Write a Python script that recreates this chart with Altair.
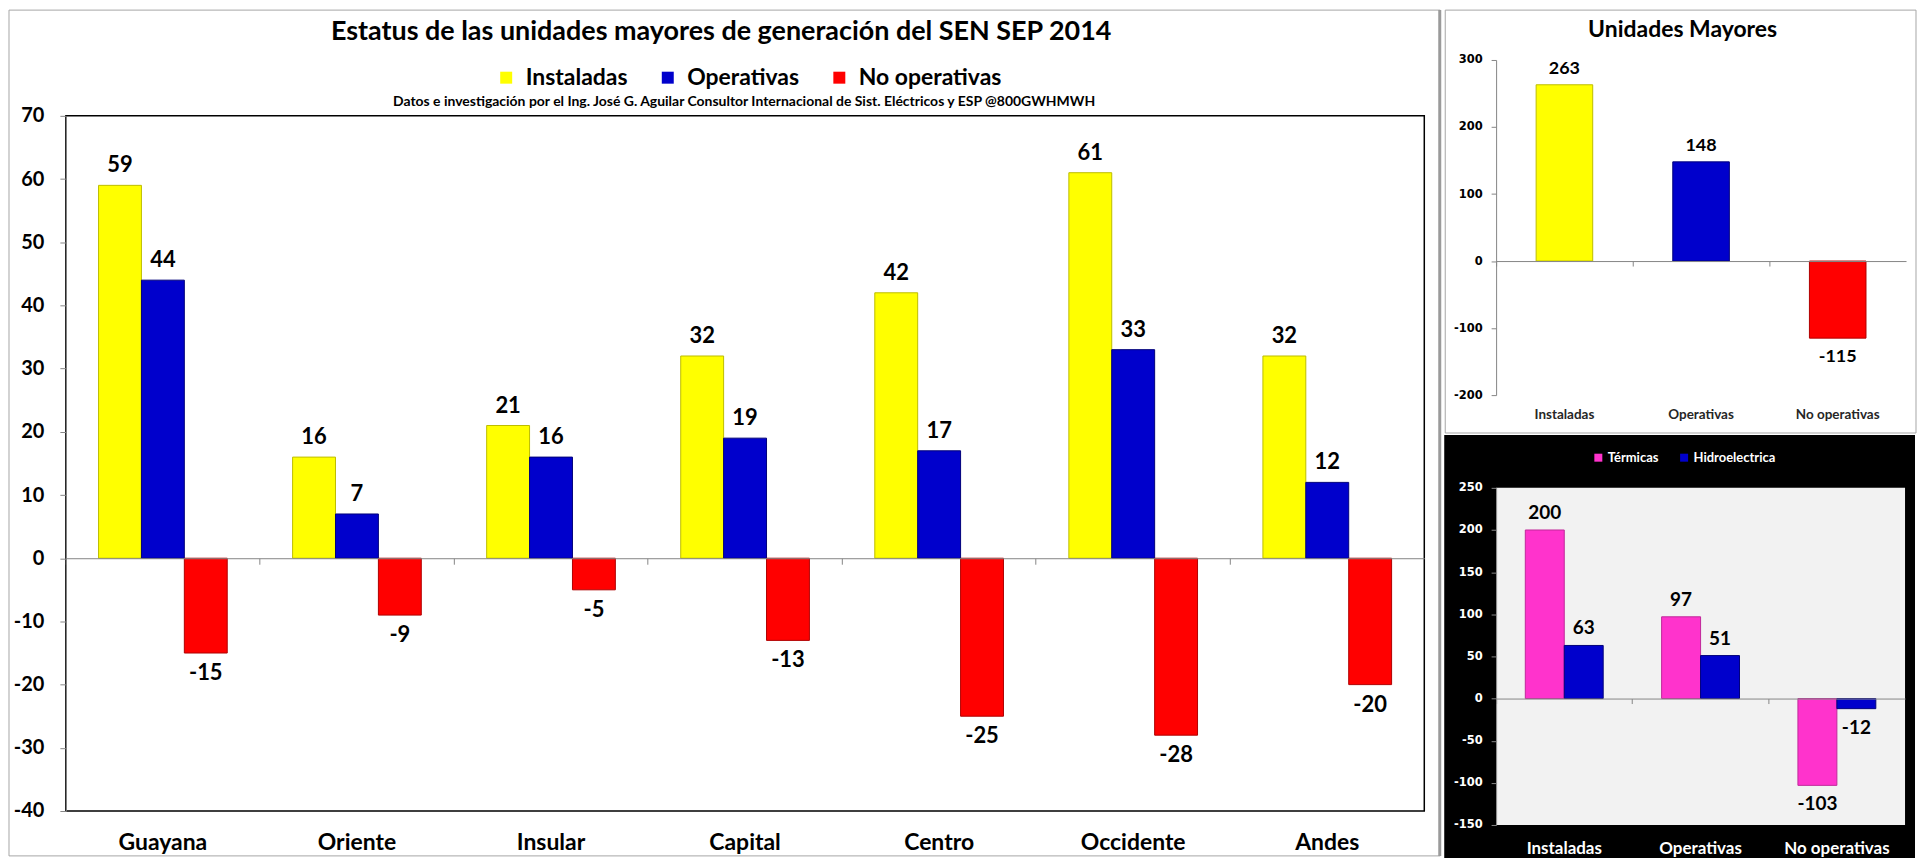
import altair as alt
import pandas as pd

# ---------------- data ----------------
regions = ["Guayana", "Oriente", "Insular", "Capital", "Centro", "Occidente", "Andes"]
instaladas = [59, 16, 21, 32, 42, 61, 32]
operativas = [44, 7, 16, 19, 17, 33, 12]
no_operativas = [-15, -9, -5, -13, -25, -28, -20]
series = ["Instaladas", "Operativas", "No operativas"]
series_colors = ["#FFFF00", "#0000CC", "#FF0000"]
series_strokes = ["#BDBD00", "#00007A", "#B00000"]

totals = [263, 148, -115]

tipos = ["Térmicas", "Hidroelectrica"]
tipo_colors = ["#FF33CC", "#0000CC"]
tipo_strokes = ["#C0289A", "#00007A"]
termicas = [200, 97, -103]
hidro = [63, 51, -12]

main_y_ticks = [-40, -30, -20, -10, 0, 10, 20, 30, 40, 50, 60, 70]
top_y_ticks = [-200, -100, 0, 100, 200, 300]
bot_y_ticks = [-150, -100, -50, 0, 50, 100, 150, 200, 250]

title_main = "Estatus de las unidades mayores de generación del SEN SEP 2014"
subtitle_main = ("Datos e investigación por el Ing. José G. Aguilar Consultor Internacional "
                 "de Sist. Eléctricos y ESP @800GWHMWH")
title_top = "Unidades Mayores"

FONT = "Lato"
AXFONT = "DejaVu Sans"
GRAY = "#868686"
LBL = "datum.value + ''"

df1 = pd.DataFrame(
    [{"region": r, "serie": s, "valor": v}
     for s, vals in zip(series, [instaladas, operativas, no_operativas])
     for r, v in zip(regions, vals)]
)
df2 = pd.DataFrame({"cat": series, "valor": totals})
df3 = pd.DataFrame(
    [{"cat": c, "tipo": t, "valor": v}
     for t, vals in zip(tipos, [termicas, hidro])
     for c, v in zip(series, vals)]
)
dummy = alt.Data(values=[{"k": 1}])

# ---------------- main chart ----------------
# The view starts at the top of the right-hand panels; the value axis occupies [TOP1, H1].
W1, H1, TOP1 = 1362, 753, 56
zero1 = TOP1 + (H1 - TOP1) * 70 / 110

x1 = alt.X("region:N", sort=regions, scale=alt.Scale(domain=regions, paddingInner=0, paddingOuter=0),
           axis=alt.Axis(title=None, orient="bottom", offset=-(H1 - zero1), domainColor=GRAY,
                         tickColor=GRAY, tickSize=6, bandPosition=0,
                         labelPadding=268, labelFont=FONT, labelFontSize=23, labelFontWeight="bold",
                         labelColor="black", labelAngle=0, grid=False, zindex=1))
xo1 = alt.XOffset("serie:N", sort=series,
                  scale=alt.Scale(domain=series, paddingInner=0, paddingOuter=0.762))
y1 = alt.Y("valor:Q", scale=alt.Scale(domain=[-40, 70], nice=False, range=[H1, TOP1]),
           axis=alt.Axis(title=None, values=main_y_ticks, domainColor=GRAY, tickColor=GRAY,
                         tickSize=6, labelPadding=16, labelFont=FONT, labelFontSize=20,
                         labelFontWeight="bold", labelColor="black", grid=False, zindex=1,
                         labelExpr=LBL))

frame1 = alt.Chart(dummy).mark_rect(fill="transparent", stroke="#A6A6A6", strokeWidth=1).encode(
    x=alt.value(-57), x2=alt.value(1378), y=alt.value(-50), y2=alt.value(798))
divider1 = alt.Chart(dummy).mark_rect(fill="#9A9A9A").encode(
    x=alt.value(1376), x2=alt.value(1379), y=alt.value(-50), y2=alt.value(798))
border1 = alt.Chart(dummy).mark_rect(fill="transparent", stroke="black", strokeWidth=1.5).encode(
    x=alt.value(0), x2=alt.value(W1), y=alt.value(TOP1), y2=alt.value(H1))

bars1 = alt.Chart(df1).mark_bar(strokeWidth=1).encode(
    x=x1, xOffset=xo1, y=y1,
    color=alt.Color("serie:N", sort=series, scale=alt.Scale(domain=series, range=series_colors),
                    legend=alt.Legend(orient="none", legendX=430, legendY=TOP1 - 50,
                                      direction="horizontal", columns=3, title=None,
                                      symbolType="square", symbolSize=144, symbolStrokeWidth=0,
                                      labelFont=FONT, labelFontSize=23, labelFontWeight="bold",
                                      labelColor="black", columnPadding=28, labelOffset=8,
                                      padding=0)),
    stroke=alt.Stroke("serie:N", sort=series, scale=alt.Scale(domain=series, range=series_strokes),
                      legend=None),
)
lab_style = dict(font=FONT, fontSize=22, fontWeight="bold", color="black", baseline="middle")
pos1 = alt.Chart(df1).transform_filter("datum.valor >= 0").transform_calculate(
    lab="datum.valor + ''").mark_text(dy=-20, **lab_style).encode(
    x=x1, xOffset=xo1, y=y1, text="lab:N")
neg1 = alt.Chart(df1).transform_filter("datum.valor < 0").transform_calculate(
    lab="datum.valor + ''").mark_text(dy=20, **lab_style).encode(
    x=x1, xOffset=xo1, y=y1, text="lab:N")

t1 = alt.Chart(dummy).mark_text(text=title_main, font=FONT, fontSize=27, fontWeight="bold",
                                color="black", align="center", baseline="middle").encode(
    x=alt.value(657), y=alt.value(TOP1 - 84))
st1 = alt.Chart(dummy).mark_text(text=subtitle_main, font=FONT, fontSize=14, fontWeight="bold",
                                 color="black", align="center", baseline="middle").encode(
    x=alt.value(680), y=alt.value(TOP1 - 14))

main = alt.layer(frame1, divider1, border1, bars1, pos1, neg1, t1, st1).properties(
    width=W1, height=H1)

# ---------------- top-right chart ----------------
W2, H2 = 411, 336
zero2 = H2 * 300 / 500
x2 = alt.X("cat:N", sort=series, scale=alt.Scale(domain=series, paddingInner=0, paddingOuter=0),
           axis=alt.Axis(title=None, orient="bottom", offset=-(H2 - zero2), domainColor=GRAY,
                         tickColor=GRAY, tickSize=5, bandPosition=0,
                         labelPadding=142, labelFont=FONT, labelFontSize=13.5, labelFontWeight="bold",
                         labelColor="#262626", labelAngle=0, grid=False, zindex=1))
y2 = alt.Y("valor:Q", scale=alt.Scale(domain=[-200, 300], nice=False),
           axis=alt.Axis(title=None, values=top_y_ticks, domainColor=GRAY, tickColor=GRAY,
                         tickSize=5, labelPadding=9, labelFont=AXFONT, labelFontSize=11.5,
                         labelFontWeight="bold", labelColor="black", grid=False, zindex=1,
                         labelExpr=LBL))
frame2 = alt.Chart(dummy).mark_rect(fill="transparent", stroke="#A6A6A6", strokeWidth=1).encode(
    x=alt.value(-51), x2=alt.value(421), y=alt.value(-50), y2=alt.value(374))
bars2 = alt.Chart(df2).mark_bar(width=alt.RelativeBandSize(0.414), strokeWidth=1).encode(
    x=x2, y=y2,
    color=alt.Color("cat:N", sort=series, scale=alt.Scale(domain=series, range=series_colors),
                    legend=None),
    stroke=alt.Stroke("cat:N", sort=series, scale=alt.Scale(domain=series, range=series_strokes),
                      legend=None),
)
lab2 = dict(font=FONT, fontSize=18, fontWeight="bold", color="black", baseline="middle")
pos2 = alt.Chart(df2).transform_filter("datum.valor >= 0").transform_calculate(
    lab="datum.valor + ''").mark_text(dy=-16, **lab2).encode(x=x2, y=y2, text="lab:N")
neg2 = alt.Chart(df2).transform_filter("datum.valor < 0").transform_calculate(
    lab="datum.valor + ''").mark_text(dy=19, **lab2).encode(x=x2, y=y2, text="lab:N")
t2 = alt.Chart(dummy).mark_text(text=title_top, font=FONT, fontSize=23, fontWeight="bold",
                                color="black", align="center", baseline="middle").encode(
    x=alt.value(187), y=alt.value(-30))
top = alt.layer(frame2, bars2, pos2, neg2, t2).properties(width=W2, height=H2)

# ---------------- bottom-right chart ----------------
W3, H3 = 410, 338
zero3 = H3 * 250 / 400
x3 = alt.X("cat:N", sort=series, scale=alt.Scale(domain=series, paddingInner=0, paddingOuter=0),
           axis=alt.Axis(title=None, orient="bottom", offset=-(H3 - zero3), domainColor=GRAY,
                         tickColor=GRAY, tickSize=5, bandPosition=0,
                         labelPadding=137, labelFont=FONT, labelFontSize=17, labelFontWeight="bold",
                         labelColor="white", labelAngle=0, grid=False, zindex=1))
xo3 = alt.XOffset("tipo:N", sort=tipos,
                  scale=alt.Scale(domain=tipos, paddingInner=0, paddingOuter=0.75))
y3 = alt.Y("valor:Q", scale=alt.Scale(domain=[-150, 250], nice=False),
           axis=alt.Axis(title=None, values=bot_y_ticks, domainColor=GRAY, tickColor=GRAY,
                         tickSize=5, labelPadding=9, labelFont=AXFONT, labelFontSize=11.5,
                         labelFontWeight="bold", labelColor="white", grid=False, zindex=1,
                         labelExpr=LBL))
black3 = alt.Chart(dummy).mark_rect(fill="black").encode(
    x=alt.value(-52), x2=alt.value(420), y=alt.value(-53), y2=alt.value(371))
gray3 = alt.Chart(dummy).mark_rect(fill="#F2F2F2").encode(
    x=alt.value(0), x2=alt.value(W3), y=alt.value(0), y2=alt.value(H3))
bars3 = alt.Chart(df3).mark_bar(strokeWidth=1).encode(
    x=x3, xOffset=xo3, y=y3,
    color=alt.Color("tipo:N", sort=tipos, scale=alt.Scale(domain=tipos, range=tipo_colors),
                    legend=alt.Legend(orient="none", legendX=96, legendY=-37, direction="horizontal",
                                      columns=2, title=None, symbolType="square", symbolSize=64,
                                      symbolStrokeWidth=0, labelFont=FONT, labelFontSize=13,
                                      labelFontWeight="bold", labelColor="white", columnPadding=19,
                                      labelOffset=3, padding=0)),
    stroke=alt.Stroke("tipo:N", sort=tipos, scale=alt.Scale(domain=tipos, range=tipo_strokes),
                      legend=None),
)
lab3 = dict(font=FONT, fontSize=19, fontWeight="bold", color="black", baseline="middle")
pos3 = alt.Chart(df3).transform_filter("datum.valor >= 0").transform_calculate(
    lab="datum.valor + ''").mark_text(dy=-17, **lab3).encode(
    x=x3, xOffset=xo3, y=y3, text="lab:N")
neg3 = alt.Chart(df3).transform_filter("datum.valor < 0").transform_calculate(
    lab="datum.valor + ''").mark_text(dy=19, **lab3).encode(
    x=x3, xOffset=xo3, y=y3, text="lab:N")
bottom = alt.layer(black3, gray3, bars3, pos3, neg3).properties(width=W3, height=H3)

right = alt.vconcat(top, bottom, spacing=0).resolve_scale(
    color="independent", stroke="independent", xOffset="independent")

chart = alt.hconcat(main, right, spacing=1).resolve_scale(
    color="independent", stroke="independent", xOffset="independent").properties(
    padding=0, background="white").configure_view(stroke="transparent")

chart.save("out.html", embed_options={"renderer": "svg", "actions": False})
